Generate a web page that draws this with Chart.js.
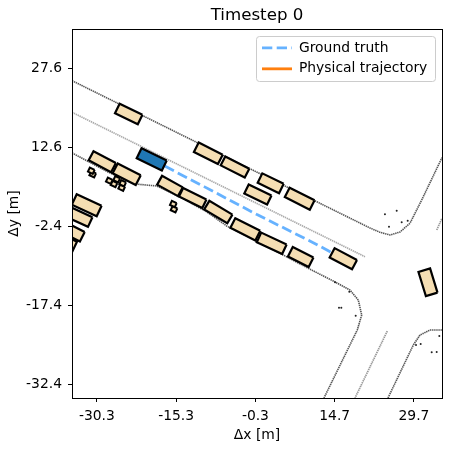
<!DOCTYPE html>
<html>
<head>
<meta charset="utf-8">
<style>html,body{margin:0;padding:0;background:#fff}canvas{display:block}</style>
<script src="https://cdn.jsdelivr.net/npm/chart.js@4"></script>
</head>
<body>
<canvas id="c" width="449" height="449"></canvas>
<script>
const xTicks = [-30.3, -15.3, -0.3, 14.7, 29.7];
const yTicks = [-32.4, -17.4, -2.4, 12.6, 27.6];

// Ego vehicle [x, y, length, width, heading in degrees]
const egoState = [-19.92, 10.28, 5.3, 2.1, -26];

// Other vehicles
const vehX = [-24.27,-29.27,-24.65,-32.22,-33.73,-35.19,-35.94,-16.46,-12.16,-7.32,-2.21,2.78,8.27,16.33,32.35,-9.21,-4.16,0.17,2.59,8.08];
const vehY = [18.88,9.83,7.44,1.56,-0.61,-3.32,-7.12,5.22,2.94,0.28,-3.0,-5.65,-8.25,-8.58,-13.05,11.42,8.82,3.61,5.73,2.81];
const vehLen = [4.8,4.8,4.9,5.2,4.8,4.8,4.8,4.5,4.9,5.1,5.3,5.3,4.4,4.8,4.8,5.1,5.1,4.8,4.5,5.3];
const vehWid = [2.0,1.95,2.1,2.2,2.0,2.0,1.9,1.9,1.8,1.9,2.05,2.0,2.0,2.0,2.3,2.0,1.9,1.9,2.0,2.0];
const vehHeading = [-26,-28,-27,-25,-25,-27,65,-29,-26,-31,-27,-25,-27,-28,-73,-27,-27,-26,-26,-27];

// Pedestrians
const pedX = [-31.35,-31.08,-27.94,-27.05,-26.54,-25.41,-25.6,-15.83,-15.7];
const pedY = [8.12,7.44,6.22,5.6,6.49,5.73,4.9,1.8,0.8];
const pedLen = 1.0, pedWid = 0.85, pedHeading = -25;

// Ground truth
const gtX = [-19.92,-10,0,10,16.33];
const gtY = [10.28,5.1,-0.2,-5.2,-8.58];

// Road lines
const upperEdgeX = [-35,11.29,21.38,23.27,25.16,27.05,28.94,31.16,35];
const upperEdgeY = [25.2,2.24,-2.75,-3.57,-4.08,-3.51,-1.86,2.56,10.6];
const lowerEdgeX = [-35,-28.19,-23.08,-18.97,-14.57,-9.46,-5.73,-0.38,4.98,9.7,14.43,17.59,19.16,19.81,18.97,12.67];
const lowerEdgeY = [11.5,7.87,5.6,5.22,3.13,0.28,-2.37,-5.03,-7.87,-10.4,-12.81,-14.52,-16.41,-19.26,-22.1,-35];
const rightEdgeX = [24.78,29.57,30.84,32.73,35];
const rightEdgeY = [-35,-24.95,-23.05,-22.11,-22.1];
const centerLineX = [-35,20.43];
const centerLineY = [19.2,-8.2];
const centerSouthX = [24.65,18.54];
const centerSouthY = [-22.3,-35];
const centerEastX = [34.0,35];
const centerEastY = [-3.13,-0.91];

// Stray map points
const dotX = [24.21,26.43,24.97,27.37,28.51,14.76,17.46,15.51,15.95,18.67,34.49,30.08,30.97,33.05,33.99];
const dotY = [-0.15,0.53,-2.5,-1.67,-1.37,-13.05,-14.84,-17.87,-17.87,-19.39,-23.24,-24.95,-24.76,-26.34,-26.28];

const legendLabels = ["Ground truth", "Physical trajectory"];
const FONT = "'DejaVu Sans'";
const TAN = "#f5deb3";

const zip = (xs, ys) => xs.map((x, i) => ({x, y: ys[i]}));
function box(x, y, l, w, deg) {
  const a = deg * Math.PI / 180, c = Math.cos(a), s = Math.sin(a);
  const pts = [[l/2, w/2], [l/2, -w/2], [-l/2, -w/2], [-l/2, w/2], [l/2, w/2]];
  return pts.map(p => ({x: x + p[0]*c - p[1]*s, y: y + p[0]*s + p[1]*c}));
}
const road = (xs, ys, color, lw, order) => ({
  data: zip(xs, ys), showLine: true, pointRadius: 0, borderColor: color,
  borderWidth: lw, borderDash: [1.4, 0.7], fill: false, order, clip: 0
});
const poly = (pts, fillColor, lw, order) => ({
  data: pts, showLine: true, pointRadius: 0, borderColor: "#000", borderWidth: lw,
  borderDash: [2000, 0], backgroundColor: fillColor, fill: "shape", borderJoinStyle: "miter", order, clip: 0
});

const datasets = [
  road(upperEdgeX, upperEdgeY, "#555", 1.6, 50),
  road(lowerEdgeX, lowerEdgeY, "#555", 1.6, 50),
  road(rightEdgeX, rightEdgeY, "#555", 1.6, 50),
  road(centerLineX, centerLineY, "#aaa", 1.7, 50),
  road(centerSouthX, centerSouthY, "#999", 1.7, 50),
  road(centerEastX, centerEastY, "#999", 1.7, 50),
  {data: zip(dotX, dotY), pointRadius: 1, pointBorderWidth: 0, pointBackgroundColor: "#222", showLine: false, order: 49, clip: 0},
  {data: zip(gtX, gtY), showLine: true, pointRadius: 0, borderColor: "#66b2ff", borderWidth: 2.8, borderDash: [10.3, 4.4], fill: false, order: 30, clip: 0},
  {data: [], showLine: true, pointRadius: 0, borderColor: "#ff7f0e", borderWidth: 2.8, order: 29, clip: 0}
];
vehX.forEach((x, i) => datasets.push(poly(box(x, vehY[i], vehLen[i], vehWid[i], vehHeading[i]), TAN, 2.2, 10)));
pedX.forEach((x, i) => datasets.push(poly(box(x, pedY[i], pedLen, pedWid, pedHeading), TAN, 2, 11)));
datasets.push(poly(box(egoState[0], egoState[1], egoState[2], egoState[3], egoState[4]), "#1f77b4", 2.2, 5));

const LEG = {left: 256, top: 36, right: 435, bottom: 81};

const framePlugin = {
  id: "frame",
  afterLayout(chart) {
    const l = chart.legend;
    if (l) { l.left = 255; l.right = 440; l.top = 34; l.bottom = 90; }
  },
  beforeDraw(chart) {
    const c = chart.ctx;
    c.save();
    c.fillStyle = "#fff";
    c.fillRect(0, 0, chart.width, chart.height);
    c.strokeStyle = "#ccc";
    c.lineWidth = 1;
    c.beginPath();
    c.roundRect(LEG.left + .5, LEG.top + .5, LEG.right - LEG.left, LEG.bottom - LEG.top, 3);
    c.stroke();
    c.restore();
  },
  afterDatasetsDraw(chart) {
    const a = chart.chartArea, c = chart.ctx;
    c.save();
    c.strokeStyle = "#000";
    c.lineWidth = 1;
    c.strokeRect(a.left + .5, a.top + .5, a.right - a.left, a.bottom - a.top);
    c.restore();
  }
};

const axis = (ticks, title, isX) => ({
  type: "linear", min: -35, max: 35,
  afterBuildTicks: s => { s.ticks = ticks.map(v => ({value: v})); },
  afterFit: s => { if (isX) s.height = 51; else s.width = 72; },
  grid: {drawOnChartArea: false, drawTicks: true, tickLength: 4, tickColor: "#000", tickWidth: 1},
  border: {display: true, color: "#000", width: 1},
  title: {display: true, text: title, color: "#000", font: {family: FONT, size: 13.89},
    padding: isX ? {top: 2, bottom: 5} : {top: 6, bottom: 6}},
  ticks: {autoSkip: false, maxRotation: 0, minRotation: 0, padding: 6, color: "#000",
    font: {family: FONT, size: 13.89}, callback: v => Number(v).toFixed(1)}
});

new Chart(document.getElementById("c"), {
  type: "scatter",
  data: {datasets},
  plugins: [framePlugin],
  options: {
    responsive: false, animation: false, devicePixelRatio: 1,
    layout: {padding: {right: 7, left: 0, top: 0, bottom: 0}},
    scales: {x: axis(xTicks, "Δx [m]", true), y: axis(yTicks, "Δy [m]", false)},
    plugins: {
      tooltip: {enabled: false},
      title: {display: true, fullSize: false, text: "Timestep 0", color: "#000",
        font: {family: FONT, size: 16.67, weight: "normal", lineHeight: 1.2}, padding: {top: 6, bottom: 3}},
      legend: {
        display: true, position: "chartArea", align: "start",
        labels: {
          usePointStyle: true, pointStyleWidth: 30, boxHeight: 14, boxWidth: 32, padding: 7, color: "#000",
          font: {family: FONT, size: 13.89},
          generateLabels: () => [
            {text: legendLabels[0], pointStyle: "line", strokeStyle: "#66b2ff", fillStyle: "#66b2ff", lineWidth: 2.8, lineDash: [10.3, 4.4], fontColor: "#000", datasetIndex: 7},
            {text: legendLabels[1], pointStyle: "line", strokeStyle: "#ff7f0e", fillStyle: "#ff7f0e", lineWidth: 2.8, lineDash: [], fontColor: "#000", datasetIndex: 8}
          ]
        }
      }
    }
  }
});
</script>
</body>
</html>
